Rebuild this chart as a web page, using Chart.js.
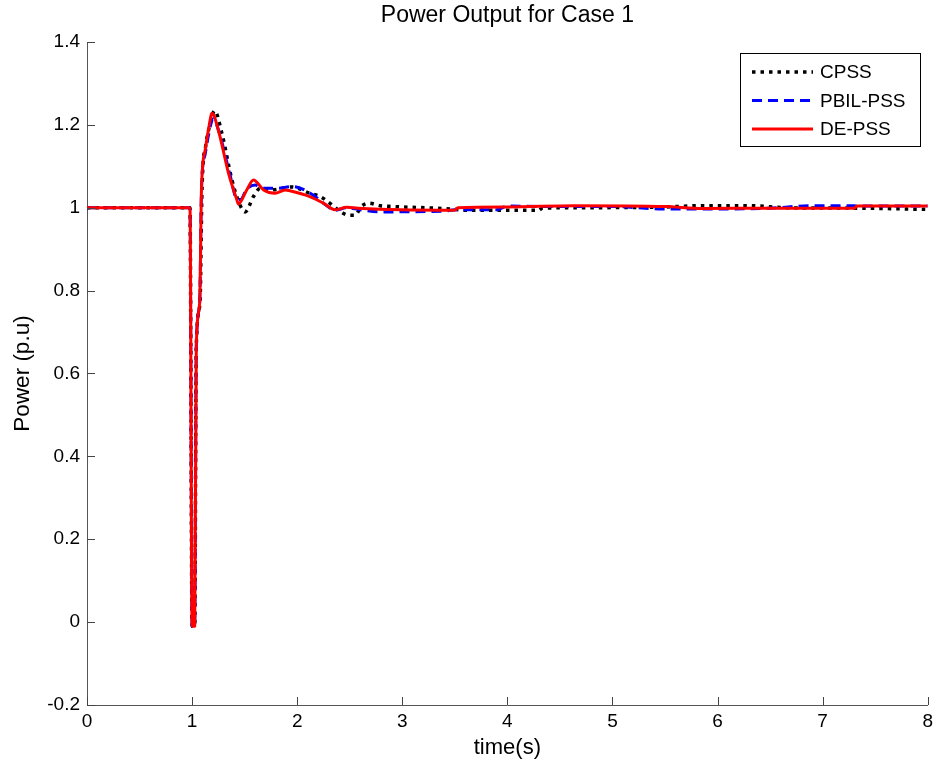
<!DOCTYPE html>
<html>
<head>
<meta charset="utf-8">
<title>Power Output for Case 1</title>
<script src="https://cdn.jsdelivr.net/npm/chart.js@4.4.1/dist/chart.umd.min.js"></script>
<style>
    html, body { margin: 0; padding: 0; background: #fff; }
    #wrap { width: 938px; height: 769px; }
</style>
</head>
<body>
<div id="wrap"><canvas id="myChart" width="938" height="769"></canvas></div>
<script>
// time axis (s) and power (p.u) for each stabiliser
var cpss_t = [0, 0.98, 1.0, 1.025, 1.04, 1.075, 1.095, 1.13, 1.17, 1.214, 1.284, 1.379, 1.45, 1.505, 1.584, 1.648, 1.75, 1.95, 2.12, 2.22, 2.31, 2.39, 2.49, 2.55, 2.61, 2.68, 2.79, 2.91, 3.47, 3.6, 4.3, 4.33, 4.64, 5.5, 5.86, 6.3, 6.67, 7.33, 8];
var cpss_p = [1, 1, -0.01, -0.01, 0.665, 0.77, 1.05, 1.15, 1.2, 1.234, 1.179, 1.067, 1.01, 0.99, 1.027, 1.047, 1.043, 1.05, 1.035, 1.027, 1.011, 0.995, 0.982, 0.982, 1.003, 1.011, 1.005, 1.003, 0.997, 0.994, 0.994, 0.999, 1.0, 1.002, 1.005, 1.005, 1.0, 0.999, 0.996];

var pbil_t = [0, 0.98, 1.0, 1.025, 1.04, 1.072, 1.09, 1.125, 1.16, 1.2, 1.26, 1.36, 1.43, 1.46, 1.52, 1.6, 1.68, 1.8, 1.96, 2.15, 2.25, 2.36, 2.47, 2.6, 2.79, 3.4, 3.5, 3.9, 4.0, 4.3, 5.0, 5.48, 5.86, 6.5, 6.9, 7.3, 7.33, 8];
var pbil_p = [1, 1, -0.01, -0.01, 0.665, 0.77, 1.05, 1.13, 1.18, 1.215, 1.18, 1.08, 1.02, 1.02, 1.045, 1.055, 1.047, 1.047, 1.051, 1.031, 1.011, 0.994, 1.0, 0.995, 0.99, 0.992, 0.995, 0.995, 1.004, 1.003, 1.003, 0.997, 0.997, 0.999, 1.005, 1.005, 1.004, 1.004];

var de_t = [0, 0.98, 1.0, 1.025, 1.04, 1.072, 1.09, 1.125, 1.157, 1.19, 1.25, 1.347, 1.426, 1.44, 1.52, 1.584, 1.68, 1.79, 1.885, 1.93, 2.12, 2.25, 2.36, 2.47, 2.58, 2.98, 3.5, 3.53, 4.0, 4.64, 5.5, 5.86, 6.5, 7.3, 7.33, 8];
var de_p = [1, 1, -0.01, -0.01, 0.665, 0.77, 1.05, 1.14, 1.19, 1.228, 1.187, 1.083, 1.019, 1.009, 1.043, 1.067, 1.043, 1.035, 1.043, 1.041, 1.027, 1.011, 0.995, 1.001, 0.999, 0.995, 0.994, 1.0, 1.002, 1.005, 1.003, 0.998, 0.999, 0.999, 1.004, 1.004];

var x_ticks = [0, 1, 2, 3, 4, 5, 6, 7, 8];
var y_ticks = [-0.2, 0, 0.2, 0.4, 0.6, 0.8, 1, 1.2, 1.4];
var series_names = ['CPSS', 'PBIL-PSS', 'DE-PSS'];
var chart_title = 'Power Output for Case 1';

var FONT = "'Liberation Sans', Arial, Helvetica, sans-serif";

function to_points(t, p) {
    let pts = [];
    for (let i = 0; i < t.length; i++) {
        pts.push({ x: t[i], y: p[i] });
    }
    return pts;
}

// title centred over the axes rather than the whole canvas
var axes_title = {
    id: 'axesTitle',
    afterDraw: function (chart) {
        let ctx = chart.ctx;
        let area = chart.chartArea;
        ctx.save();
        ctx.font = '23px ' + FONT;
        ctx.fillStyle = '#000';
        ctx.textAlign = 'center';
        ctx.textBaseline = 'middle';
        ctx.fillText(chart_title, (area.left + area.right) / 2, 16);
        ctx.restore();
    }
};

// matlab style: tick marks pointing into the axes
var inward_ticks = {
    id: 'inwardTicks',
    afterDraw: function (chart) {
        let ctx = chart.ctx;
        let xs = chart.scales.x;
        let ys = chart.scales.y;
        let area = chart.chartArea;
        ctx.save();
        ctx.strokeStyle = '#444';
        ctx.lineWidth = 1;
        ctx.beginPath();
        x_ticks.forEach(function (v) {
            let px = Math.round(xs.getPixelForValue(v)) + 0.5;
            ctx.moveTo(px, area.bottom);
            ctx.lineTo(px, area.bottom - 8);
        });
        y_ticks.forEach(function (v) {
            let py = Math.round(ys.getPixelForValue(v)) + 0.5;
            ctx.moveTo(area.left, py);
            ctx.lineTo(area.left + 8, py);
        });
        ctx.stroke();
        ctx.restore();
    }
};

// boxed legend in the upper right corner of the axes
var box_legend = {
    id: 'boxLegend',
    afterDraw: function (chart) {
        let ctx = chart.ctx;
        let bx = 740, by = 53, bw = 180, bh = 93;
        ctx.save();
        ctx.fillStyle = '#fff';
        ctx.fillRect(bx, by, bw, bh);
        ctx.strokeStyle = '#000';
        ctx.lineWidth = 1;
        ctx.strokeRect(bx + 0.5, by + 0.5, bw, bh);
        ctx.font = '19px ' + FONT;
        ctx.textBaseline = 'middle';
        ctx.textAlign = 'left';
        chart.data.datasets.forEach(function (ds, i) {
            let y = by + 19 + i * 28.5;
            ctx.beginPath();
            ctx.strokeStyle = ds.borderColor;
            ctx.lineWidth = ds.borderWidth;
            ctx.setLineDash(ds.borderDash || []);
            ctx.moveTo(752, y);
            ctx.lineTo(813, y);
            ctx.stroke();
            ctx.setLineDash([]);
            ctx.fillStyle = '#000';
            ctx.fillText(ds.label, 820, y + 1);
        });
        ctx.restore();
    }
};

var ctx = document.getElementById('myChart');
var chart = new Chart(ctx, {
    type: 'line',
    data: {
        datasets: [
            {
                label: series_names[0],
                data: to_points(cpss_t, cpss_p),
                borderColor: '#000000',
                borderWidth: 3.5,
                borderDash: [3.5, 5],
                order: 3
            },
            {
                label: series_names[1],
                data: to_points(pbil_t, pbil_p),
                borderColor: '#0000ff',
                borderWidth: 3,
                borderDash: [10, 6],
                order: 2
            },
            {
                label: series_names[2],
                data: to_points(de_t, de_p),
                borderColor: '#ff0000',
                borderWidth: 3,
                order: 1
            }
        ]
    },
    options: {
        responsive: false,
        animation: false,
        elements: {
            point: { radius: 0 },
            line: { fill: false, cubicInterpolationMode: 'monotone', borderCapStyle: 'butt', borderJoinStyle: 'round' }
        },
        layout: { padding: { left: 0, right: 9, top: 42, bottom: 0 } },
        scales: {
            x: {
                type: 'linear',
                min: 0,
                max: 8,
                afterBuildTicks: function (scale) {
                    scale.ticks = x_ticks.map(function (v) { return { value: v }; });
                },
                afterFit: function (scale) { scale.height = 64; },
                grid: { display: false, drawTicks: false },
                border: { display: true, color: '#555', width: 1 },
                ticks: {
                    color: '#000',
                    padding: 5,
                    maxRotation: 0,
                    font: { family: FONT, size: 19 }
                },
                title: {
                    display: true,
                    text: 'time(s)',
                    color: '#000',
                    padding: { top: 0, bottom: 8 },
                    font: { family: FONT, size: 22 }
                }
            },
            y: {
                type: 'linear',
                min: -0.2,
                max: 1.4,
                afterBuildTicks: function (scale) {
                    scale.ticks = y_ticks.map(function (v) { return { value: v }; });
                },
                afterFit: function (scale) { scale.width = 87; },
                grid: { display: false, drawTicks: false },
                border: { display: true, color: '#555', width: 1 },
                ticks: {
                    color: '#000',
                    padding: 7,
                    font: { family: FONT, size: 19 },
                    callback: function (v) { return String(Math.round(v * 10) / 10); }
                },
                title: {
                    display: true,
                    text: 'Power (p.u)',
                    color: '#000',
                    padding: { top: 9, bottom: 0 },
                    font: { family: FONT, size: 22.5 }
                }
            }
        },
        plugins: {
            legend: { display: false },
            tooltip: { enabled: false },
            title: { display: false }
        }
    },
    plugins: [axes_title, inward_ticks, box_legend]
});
</script>
</body>
</html>
